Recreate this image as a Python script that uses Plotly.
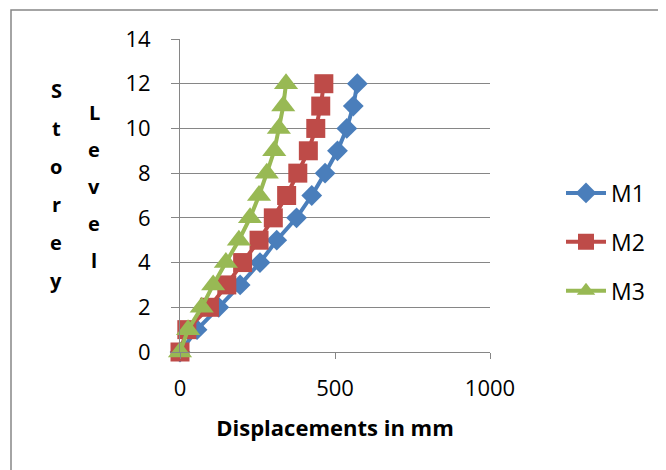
import plotly.graph_objects as go

levels = [0, 1, 2, 3, 4, 5, 6, 7, 8, 9, 10, 11, 12]
m1 = [0, 55, 125, 194, 258, 312, 376, 425, 468, 508, 538, 559, 572]
m2 = [0, 22, 95, 151, 202, 255, 301, 344, 380, 414, 438, 454, 464]
m3 = [0, 26, 70, 107, 148, 190, 226, 255, 280, 304, 319, 333, 342]
series_names = ["M1", "M2", "M3"]
x_ticks = [0, 500, 1000]
y_ticks = [0, 2, 4, 6, 8, 10, 12, 14]
title_col1 = ["S", "t", "o", "r", "e", "y"]
title_col2 = ["L", "e", "v", "e", "l"]

FONT = "Open Sans"
colors = ["#4A7EBB", "#BE4B48", "#98B954"]
symbols = ["diamond", "square", "triangle-up"]
sizes = [16, 19, 21]

W, H = 666, 470
# plot area in screen pixels (page has 8px body margin)
PL, PR, PT, PB = 180, 490, 39, 352
PW, PH = PR - PL, PB - PT


def px(x):
    return (x - PL) / PW


def py(y):
    return (PB - y) / PH


fig = go.Figure()
for name, vals, c, s, sz in zip(series_names, [m1, m2, m3], colors, symbols, sizes):
    fig.add_trace(go.Scatter(
        x=vals, y=levels, name=name, mode="lines+markers", legendgroup=name,
        line=dict(color=c, width=4),
        marker=dict(symbol=s, size=sz, color=c, line=dict(width=0)),
        cliponaxis=False,
    ))

anns = []
for i, ch in enumerate(title_col1):
    anns.append(dict(text="<b>%s</b>" % ch, x=px(56), y=py(90 + 38 * i), xref="paper", yref="paper",
                     xanchor="center", yanchor="middle", showarrow=False,
                     font=dict(family=FONT, size=20, color="#000000")))
for i, ch in enumerate(title_col2):
    anns.append(dict(text="<b>%s</b>" % ch, x=px(94), y=py(112 + 37 * i), xref="paper", yref="paper",
                     xanchor="center", yanchor="middle", showarrow=False,
                     font=dict(family=FONT, size=20, color="#000000")))

fig.update_layout(
    width=W, height=H,
    margin=dict(l=PL - 8, r=W - (PR - 8), t=PT - 8, b=H - (PB - 8)),
    paper_bgcolor="white", plot_bgcolor="white",
    font=dict(family=FONT, size=22, color="#000000"),
    showlegend=True,
    legend=dict(x=px(561), y=py(242), xanchor="left", yanchor="middle",
                font=dict(family=FONT, size=23), tracegroupgap=16, itemwidth=40,
                bgcolor="rgba(0,0,0,0)"),
    annotations=anns,
    xaxis=dict(
        range=[0, 1000], tickvals=x_ticks, ticktext=[str(v) for v in x_ticks],
        showgrid=False, zeroline=False, showline=True, linecolor="#868686", linewidth=1,
        ticks="outside", ticklen=6, tickcolor="#868686",
        tickfont=dict(family=FONT, size=22), ticklabelstandoff=11,
        title=dict(text="<b>Displacements in mm</b>", font=dict(family=FONT, size=22), standoff=19),
    ),
    yaxis=dict(
        range=[0, 14], tickvals=y_ticks, ticktext=[str(v) for v in y_ticks],
        showgrid=True, gridcolor="#868686", gridwidth=1,
        zeroline=False, showline=True, linecolor="#868686", linewidth=1,
        ticks="outside", ticklen=8, tickcolor="#868686",
        tickfont=dict(family=FONT, size=22), ticklabelstandoff=16,
    ),
    shapes=[dict(type="rect", xref="paper", yref="paper",
                 x0=px(11), x1=px(700), y0=py(480), y1=py(10),
                 line=dict(color="#868686", width=1.5), fillcolor="rgba(0,0,0,0)", layer="below")],
)

fig.write_html("out.html")
